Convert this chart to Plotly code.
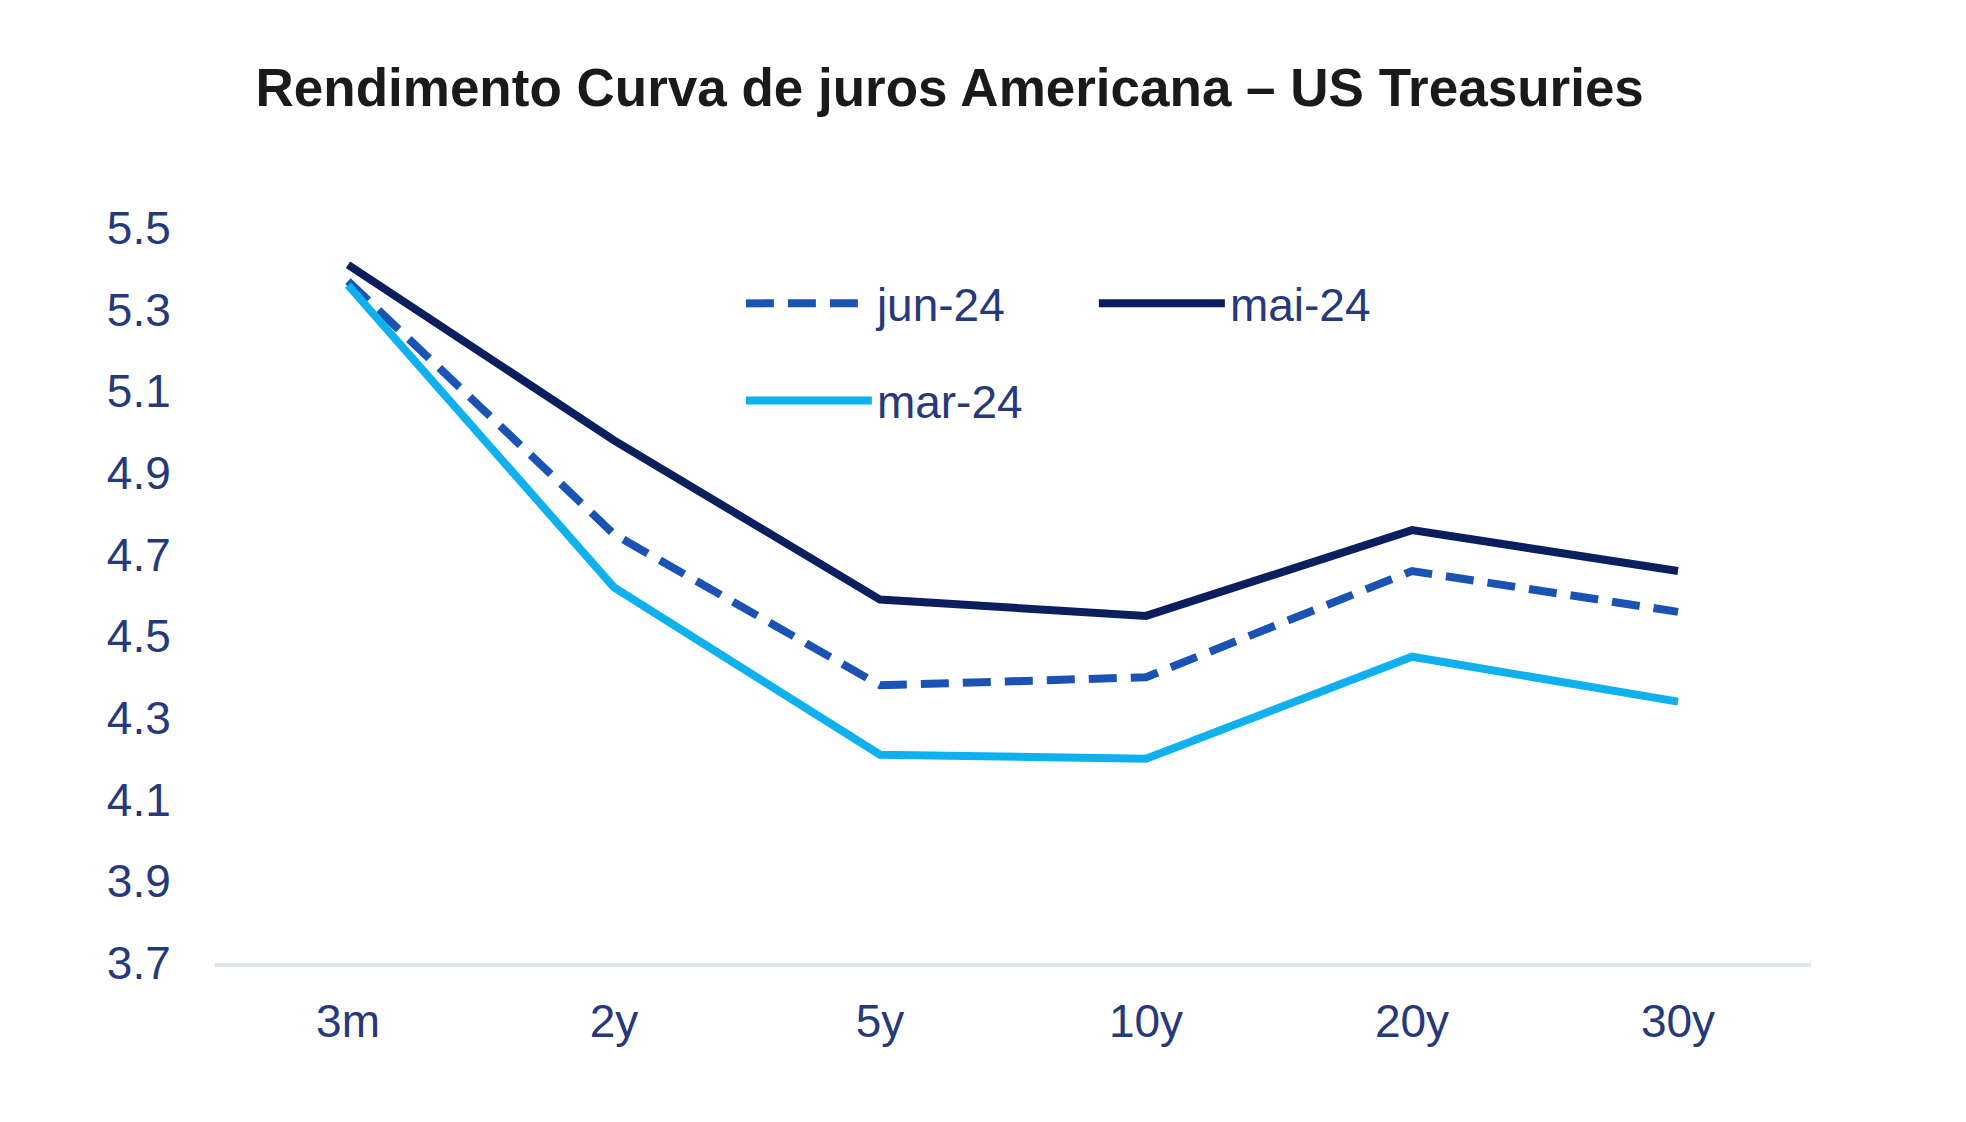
import plotly.graph_objects as go

categories = ["3m", "2y", "5y", "10y", "20y", "30y"]
jun_24 = [5.37, 4.75, 4.38, 4.40, 4.66, 4.56]
mai_24 = [5.41, 4.98, 4.59, 4.55, 4.76, 4.66]
mar_24 = [5.36, 4.62, 4.21, 4.20, 4.45, 4.34]
y_ticks = [3.7, 3.9, 4.1, 4.3, 4.5, 4.7, 4.9, 5.1, 5.3, 5.5]

FONT = "Liberation Sans, Arial, sans-serif"
TICK_COLOR = "#26397a"

fig = go.Figure()
fig.add_trace(go.Scatter(x=categories, y=jun_24, name="jun-24", mode="lines",
                         line=dict(color="#1b53b5", width=8, dash="28px,14px"),
                         legend="legend"))
fig.add_trace(go.Scatter(x=categories, y=mai_24, name="mai-24", mode="lines",
                         line=dict(color="#0b1f5e", width=8),
                         legend="legend"))
fig.add_trace(go.Scatter(x=categories, y=mar_24, name="mar-24", mode="lines",
                         line=dict(color="#0eb0ee", width=8),
                         legend="legend2"))

legend_common = dict(orientation="h", xanchor="left", yanchor="top",
                     bgcolor="rgba(0,0,0,0)", itemwidth=126,
                     font=dict(family=FONT, size=46, color=TICK_COLOR),
                     traceorder="normal")

fig.update_layout(
    width=1966, height=1122,
    margin=dict(l=207, r=163, t=220, b=167),
    paper_bgcolor="white", plot_bgcolor="white",
    title=dict(text="<b>Rendimento Curva de juros Americana – US Treasuries</b>",
               x=0.479, xanchor="center", xref="container",
               y=1 - 79 / 1122, yanchor="middle", yref="container",
               font=dict(family=FONT, size=53, color="#1a1a1a")),
    legend=dict(x=0.3295, y=0.947, entrywidth=212, **legend_common),
    legend2=dict(x=0.3295, y=0.815, entrywidth=212, **legend_common),
    xaxis=dict(type="category", range=[-0.5, 5.5], showgrid=False,
               showline=True, linecolor="#dde3f1", linewidth=4,
               ticks="outside", ticklen=15, tickcolor="rgba(0,0,0,0)",
               tickfont=dict(family=FONT, size=46, color=TICK_COLOR),
               zeroline=False, fixedrange=True),
    yaxis=dict(range=[3.7, 5.5], tickvals=y_ticks,
               ticktext=[f"{v:.1f}" for v in y_ticks],
               showgrid=False, showline=False, zeroline=False,
               ticks="outside", ticklen=34, tickcolor="rgba(0,0,0,0)",
               tickfont=dict(family=FONT, size=46, color=TICK_COLOR),
               fixedrange=True),
    showlegend=True,
)

fig.write_html("out.html")
